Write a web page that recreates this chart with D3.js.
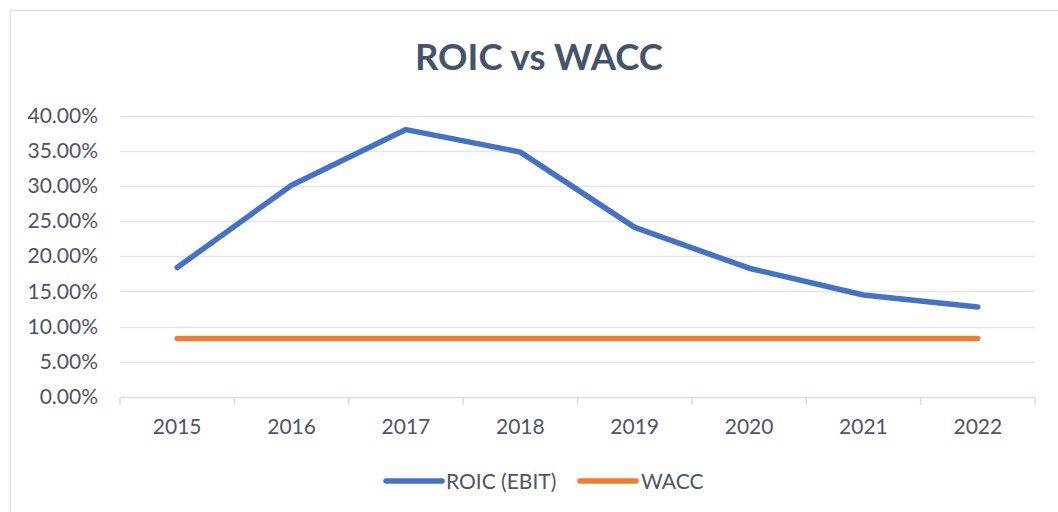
<!DOCTYPE html>
<html><head><meta charset="utf-8">
<script src="https://cdn.jsdelivr.net/npm/d3@7"></script>
<style>
html,body{margin:0;padding:0;background:#fff;}
svg{display:block;font-family:Lato, "Open Sans", sans-serif;}
</style></head>
<body>
<svg id="chart" width="1058" height="512"></svg>
<script>
const years = ["2015","2016","2017","2018","2019","2020","2021","2022"];
const roic = [0.184, 0.301, 0.380, 0.348, 0.241, 0.183, 0.145, 0.128];
const wacc = [0.083, 0.083, 0.083, 0.083, 0.083, 0.083, 0.083, 0.083];
const yTicks = [0, 0.05, 0.10, 0.15, 0.20, 0.25, 0.30, 0.35, 0.40];
const seriesNames = ["ROIC (EBIT)", "WACC"];
const colors = ["#4472C4", "#ED7D31"];

const svg = d3.select("#chart");
const textCol = "#44546A";
const labelCol = "#4d5566";

// chart border
svg.append("path").attr("d","M10.5,512 V10.5 H1058").attr("fill","none").attr("stroke","#dfe3ea").attr("stroke-width",1.5);

svg.append("text").attr("x",539).attr("y",70).attr("text-anchor","middle")
  .attr("font-size",36.5).attr("font-weight",700).attr("fill",textCol).text("ROIC vs WACC");

const x = d3.scaleBand().domain(years).range([120,1035]);
const y = d3.scaleLinear().domain([0,0.40]).range([397,115.5]);

// gridlines
svg.append("g").selectAll("line").data(yTicks.slice(1)).join("line")
  .attr("x1",120).attr("x2",1035).attr("y1",d=>Math.round(y(d))+0.5).attr("y2",d=>Math.round(y(d))+0.5)
  .attr("stroke","#e1e4ea").attr("stroke-width",1.3);

// y axis labels
const yAxis = d3.axisLeft(y).tickValues(yTicks).tickFormat(d3.format(".2%")).tickSize(0).tickPadding(0);
const gy = svg.append("g").attr("transform","translate(98,0)").call(yAxis);
gy.select(".domain").remove();
gy.selectAll("text").attr("font-size",21).attr("fill",labelCol).attr("font-family","Lato, sans-serif");

// x axis
const xAxis = d3.axisBottom(x).tickSize(0).tickPadding(0);
const gx = svg.append("g").attr("transform","translate(0,397)").call(xAxis);
gx.select(".domain").attr("stroke","#d9dde4").attr("stroke-width",1.5);
gx.selectAll("text").attr("font-size",21).attr("fill",labelCol).attr("dy","1.75em").attr("font-family","Lato, sans-serif");
// category separator ticks
const bounds = years.map(d=>x(d)).concat([x.range()[1]]);
gx.append("g").selectAll("line").data(bounds).join("line")
  .attr("x1",d=>d).attr("x2",d=>d).attr("y1",0).attr("y2",8)
  .attr("stroke","#d9dde4").attr("stroke-width",1.5);

const line = d3.line().x((d,i)=>x(years[i])+x.bandwidth()/2).y(d=>y(d));
[roic, wacc].forEach((s,i)=>{
  svg.append("path").datum(s).attr("d",line).attr("fill","none")
    .attr("stroke",colors[i]).attr("stroke-width",5.5)
    .attr("stroke-linecap","round").attr("stroke-linejoin","round");
});

// legend
const leg = [{x1:386,x2:442,tx:446},{x1:580,x2:636,tx:641}];
leg.forEach((l,i)=>{
  svg.append("line").attr("x1",l.x1).attr("x2",l.x2).attr("y1",481).attr("y2",481)
    .attr("stroke",colors[i]).attr("stroke-width",5.5).attr("stroke-linecap","round");
  svg.append("text").attr("x",l.tx).attr("y",488.5).attr("font-size",21).attr("fill",labelCol)
    .text(seriesNames[i]);
});
</script>
</body></html>
